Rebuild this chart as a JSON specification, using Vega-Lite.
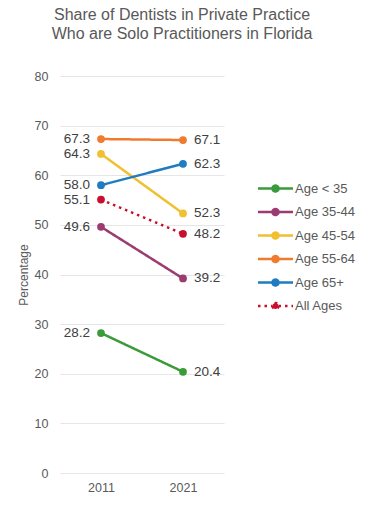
{
  "$schema": "https://vega.github.io/schema/vega-lite/v6.json",
  "autosize": "none",
  "width": 164,
  "height": 397,
  "padding": {"left": 60, "top": 76, "right": 141, "bottom": 36},
  "background": "white",
  "title": {
    "text": ["Share of Dentists in Private Practice", "Who are Solo Practitioners in Florida"],
    "anchor": "start",
    "frame": "group",
    "align": "center",
    "dx": 122,
    "fontSize": 16,
    "fontWeight": "normal",
    "font": "Liberation Sans",
    "color": "#595959",
    "lineHeight": 19,
    "offset": 28
  },
  "config": {
    "font": "Liberation Sans",
    "view": {"stroke": null}
  },
  "data": {
    "values": [
      {"group": "Age < 35", "year": "2011", "value": 28.2},
      {"group": "Age < 35", "year": "2021", "value": 20.4},
      {"group": "Age 35-44", "year": "2011", "value": 49.6},
      {"group": "Age 35-44", "year": "2021", "value": 39.2},
      {"group": "Age 45-54", "year": "2011", "value": 64.3},
      {"group": "Age 45-54", "year": "2021", "value": 52.3},
      {"group": "Age 55-64", "year": "2011", "value": 67.3},
      {"group": "Age 55-64", "year": "2021", "value": 67.1},
      {"group": "Age 65+", "year": "2011", "value": 58.0},
      {"group": "Age 65+", "year": "2021", "value": 62.3},
      {"group": "All Ages", "year": "2011", "value": 55.1},
      {"group": "All Ages", "year": "2021", "value": 48.2}
    ]
  },
  "encoding": {
    "x": {
      "field": "year", "type": "ordinal",
      "scale": {"type": "point", "padding": 0.5},
      "axis": {"title": null, "labelAngle": 0, "domain": false, "ticks": false, "labelFontSize": 12.5, "labelColor": "#595959", "labelPadding": 8, "grid": false}
    },
    "y": {
      "field": "value", "type": "quantitative",
      "scale": {"domain": [0, 80]},
      "axis": {"title": "Percentage", "values": [0,10,20,30,40,50,60,70,80], "domain": false, "ticks": false, "labelFontSize": 12.5, "labelColor": "#595959", "labelPadding": 12, "gridColor": "#e6e6e6", "titleFontSize": 12, "titleFontWeight": "normal", "titleColor": "#595959", "titlePadding": 4}
    },
    "color": {
      "field": "group", "type": "nominal",
      "scale": {
        "domain": ["Age < 35", "Age 35-44", "Age 45-54", "Age 55-64", "Age 65+", "All Ages"],
        "range": ["#3a9b3a", "#9b3b6f", "#f0c030", "#ef7b2f", "#1f7cc1", "#c8102e"]
      },
      "legend": {
        "title": null,
        "orient": "none",
        "legendX": 209,
        "legendY": 106,
        "symbolType": "M -3.5 0 L -0.6 0 M 0.6 0 L 3.5 0 M 0.6 0 A 0.6 0.6 0 1 1 -0.6 0 A 0.6 0.6 0 1 1 0.6 0",
        "symbolSize": 100,
        "symbolStrokeWidth": 2.5,
        "labelFontSize": 13,
        "labelColor": "#595959",
        "labelOffset": 13,
        "rowPadding": 6.5,
        "labelLimit": 200
      }
    }
  },
  "layer": [
    {
      "mark": {"type": "line", "strokeWidth": 2.5},
      "encoding": {
        "detail": {"field": "group"},
        "strokeDash": {
          "field": "group", "type": "nominal",
          "scale": {
            "domain": ["Age < 35", "Age 35-44", "Age 45-54", "Age 55-64", "Age 65+", "All Ages"],
            "range": [[1, 0], [1, 0], [1, 0], [1, 0], [1, 0], [2.5, 4]]
          },
          "legend": {
            "title": null,
            "orient": "none",
            "legendX": 209,
            "legendY": 106
          }
        }
      }
    },
    {
      "mark": {"type": "point", "filled": true, "size": 60, "opacity": 1}
    },
    {
      "transform": [{"filter": "datum.year == '2011'"}],
      "mark": {"type": "text", "align": "right", "dx": -11, "fontSize": 13.5, "color": "#404040"},
      "encoding": {
        "text": {"field": "value", "type": "quantitative", "format": ".1f"},
        "color": {"value": "#404040"}
      }
    },
    {
      "transform": [{"filter": "datum.year == '2021'"}],
      "mark": {"type": "text", "align": "left", "dx": 11, "fontSize": 13.5, "color": "#404040"},
      "encoding": {
        "text": {"field": "value", "type": "quantitative", "format": ".1f"},
        "color": {"value": "#404040"}
      }
    }
  ]
}
